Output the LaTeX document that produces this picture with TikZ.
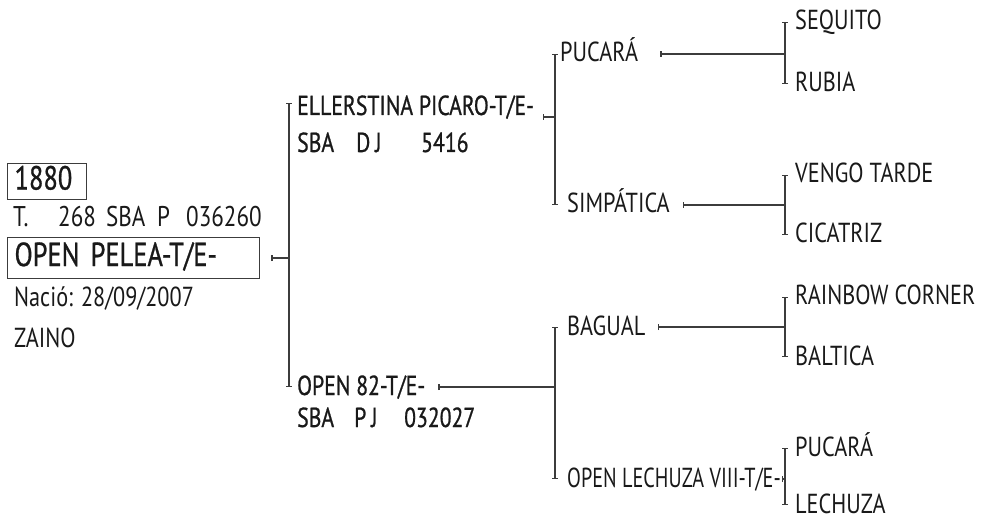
\documentclass[tikz,border=0pt]{standalone}
\usepackage{fontspec}
\usepackage{tikz}
\usetikzlibrary{arrows.meta,positioning,calc}
\newfontfamily\pedfont[FakeStretch=0.81]{PT Sans}
\newfontfamily\pedmedfont[FakeStretch=0.79,FakeBold=0.8]{PT Sans}
\newfontfamily\pedcondfont[FakeStretch=0.735]{PT Sans}
\definecolor{inkgray}{RGB}{25,25,25}
\definecolor{linegray}{RGB}{60,60,60}

\begin{document}
\begin{tikzpicture}[x=1pt, y=-1pt,
    every node/.style={inner sep=0pt, text=inkgray},
    horse/.style={anchor=base west, font=\pedfont\fontsize{27.5}{27.5}\selectfont, text height=16pt, text depth=0pt},
    sire/.style={horse, font=\pedmedfont\fontsize{27.5}{27.5}\selectfont},
    namebox/.style={draw=linegray, line width=1.2pt, anchor=north west, align=left, inner xsep=7pt, text height=20pt, text depth=4pt, font=\pedmedfont\fontsize{33.5}{33.5}\selectfont},
    bracket/.style={{Bar[width=6pt]}-{Bar[width=6pt]}, draw=linegray, line width=1.3pt},
    link/.style={{Bar[width=6pt]}-, draw=linegray, line width=1.3pt}
]
    \useasboundingbox (0,0) rectangle (987,518);

    \node[namebox, text width=65pt, minimum height=36pt] (lot) at (7,163) {1880};
    \node[horse, font=\pedfont\fontsize{28.5}{28.5}\selectfont] (tattoo) at (13,227)
        {\makebox[45pt][l]{T.}\makebox[48pt][l]{268}\makebox[51pt][l]{SBA}\makebox[29pt][l]{P}036260};
    \node[namebox, text width=238pt, minimum height=41pt] (pelea) at (7,237) {OPEN PELEA-T/E-};
    \node[horse] (birth) at (14,307) {Nació: 28/09/2007};
    \node[horse] (coat) at (14,347) {ZAINO};

    \node[sire] (ellerstina) at (297,115) {ELLERSTINA PICARO-T/E-};
    \node[sire] (ellerstinareg) at (297,152) {\makebox[59pt][l]{SBA}\makebox[19pt][l]{D}\makebox[46pt][l]{J}5416};
    \node[sire] (open82) at (297,395) {OPEN 82-T/E-};
    \node[sire] (open82reg) at (297,427) {\makebox[57pt][l]{SBA}\makebox[17pt][l]{P}\makebox[33pt][l]{J}032027};

    \node[horse] (pucara) at (560,62) {PUCARÁ};
    \node[horse] (simpatica) at (567,213) {SIMPÁTICA};
    \node[horse] (bagual) at (567,335) {BAGUAL};
    \node[horse, font=\pedcondfont\fontsize{27.5}{27.5}\selectfont] (lechuza) at (567,487) {OPEN LECHUZA VIII-T/E-};

    \node[horse] (sequito) at (795,30) {SEQUITO};
    \node[horse] (rubia) at (795,92) {RUBIA};
    \node[horse] (vengo) at (795,183) {VENGO TARDE};
    \node[horse] (cicatriz) at (795,243) {CICATRIZ};
    \node[horse] (rainbow) at (795,305) {RAINBOW CORNER};
    \node[horse] (baltica) at (795,365) {BALTICA};
    \node[horse] (pucarab) at (795,456) {PUCARÁ};
    \node[horse] (lechuzab) at (795,513) {LECHUZA};

    \draw[link] ([xshift=11pt]pelea.east) -- ([xshift=-8pt]pelea.east -| ellerstina.west);
    \draw[bracket] ([xshift=-8pt,yshift=4pt]ellerstina.west) -- ([xshift=-8pt]open82.west);

    \draw[link] ([xshift=9pt,yshift=-10pt]ellerstina.east) -- ([xshift=-5pt,yshift=-10pt]ellerstina.east -| pucara.west);
    \draw[bracket] ([xshift=-5pt]pucara.west) -- ([xshift=-5pt]pucara.west |- simpatica.west);
    \draw[link] ([xshift=13pt]open82.east) -- ([xshift=-12pt]open82.east -| bagual.west);
    \draw[bracket] ([xshift=-12pt]bagual.west) -- ([xshift=-12pt]lechuza.west);

    \draw[link] ([xshift=22pt]pucara.east) -- ([xshift=-10pt]pucara.east -| sequito.west);
    \draw[bracket] ([xshift=-10pt]sequito.west) -- ([xshift=-10pt]rubia.west);
    \draw[link] ([xshift=13pt]simpatica.east) -- ([xshift=-10pt]simpatica.east -| vengo.west);
    \draw[bracket] ([xshift=-10pt]vengo.west) -- ([xshift=-10pt]cicatriz.west);
    \draw[link] ([xshift=12pt]bagual.east) -- ([xshift=-10pt]bagual.east -| rainbow.west);
    \draw[bracket] ([xshift=-10pt]rainbow.west) -- ([xshift=-10pt]baltica.west);
    \draw[link] ([xshift=1pt]lechuza.east) -- ([xshift=-10pt]lechuza.east -| pucarab.west);
    \draw[bracket] ([xshift=-10pt]pucarab.west) -- ([xshift=-10pt]lechuzab.west);
\end{tikzpicture}
\end{document}
